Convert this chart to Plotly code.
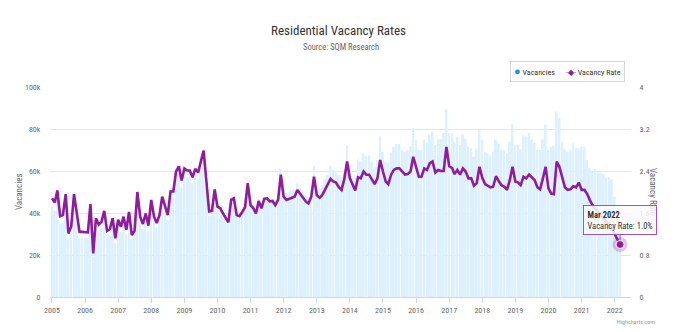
import plotly.graph_objects as go
import pandas as pd

# Monthly vacancy rate (%) Jan 2005 - Mar 2022
RATE = [
    1.88, 1.80, 2.03, 1.54, 1.56, 1.96, 1.21, 1.34, 1.96, 1.59, 1.24, 1.24,  # 2005
    1.23, 1.23, 1.77, 0.83, 1.50, 1.38, 1.43, 1.64, 1.26, 1.29, 1.50, 1.12,  # 2006
    1.47, 1.34, 1.53, 1.28, 1.62, 1.18, 1.26, 2.00, 1.53, 1.39, 1.59, 1.36,  # 2007
    1.85, 1.53, 1.41, 1.56, 1.91, 1.72, 1.56, 2.01, 2.01, 2.39, 2.49, 2.22,  # 2008
    2.45, 2.41, 2.41, 2.28, 2.44, 2.37, 2.58, 2.79, 2.20, 1.63, 1.64, 2.05,  # 2009
    1.72, 1.69, 1.60, 1.51, 1.42, 1.85, 1.88, 1.56, 1.54, 1.62, 1.71, 2.17,  # 2010
    1.75, 1.69, 1.59, 1.83, 1.69, 1.87, 1.88, 1.82, 1.83, 1.75, 1.85, 2.33,  # 2011
    1.91, 1.85, 1.87, 1.88, 1.91, 2.04, 1.96, 1.88, 1.82, 1.78, 1.91, 2.29,  # 2012
    1.94, 1.89, 1.94, 2.04, 2.13, 2.25, 2.20, 2.18, 2.09, 2.04, 2.25, 2.58,  # 2013
    2.26, 2.13, 2.03, 2.28, 2.26, 2.39, 2.33, 2.33, 2.23, 2.15, 2.26, 2.61,  # 2014
    2.39, 2.20, 2.15, 2.33, 2.42, 2.45, 2.45, 2.39, 2.33, 2.34, 2.39, 2.67,  # 2015
    2.48, 2.29, 2.29, 2.45, 2.42, 2.55, 2.58, 2.37, 2.42, 2.40, 2.40, 2.86,  # 2016
    2.49, 2.46, 2.34, 2.42, 2.33, 2.45, 2.39, 2.26, 2.26, 2.12, 2.17, 2.48,  # 2017
    2.27, 2.15, 2.12, 2.09, 2.10, 2.30, 2.21, 2.13, 2.10, 2.04, 2.23, 2.48,  # 2018
    2.20, 2.18, 2.13, 2.29, 2.26, 2.33, 2.28, 2.23, 2.09, 2.05, 2.26, 2.48,  # 2019
    2.07, 1.97, 1.96, 2.58, 2.48, 2.26, 2.09, 2.04, 2.05, 2.11, 2.09, 2.18,  # 2020
    2.04, 2.04, 1.97, 1.85, 1.75, 1.68, 1.62, 1.57, 1.50, 1.44, 1.37, 1.30,  # 2021
    1.20, 1.11, 1.00,                                                        # 2022
]

# Monthly vacancies (thousands)
VAC_K = [
    42.8, 41.0, 46.2, 35.0, 35.5, 44.6, 27.5, 30.5, 44.6, 36.2, 28.2, 28.2,
    28.3, 28.3, 40.7, 19.1, 34.5, 31.7, 32.9, 37.7, 29.0, 29.7, 34.5, 25.8,
    34.2, 31.2, 35.6, 29.8, 37.7, 27.4, 29.3, 46.5, 35.6, 32.3, 37.0, 31.6,
    43.5, 36.0, 33.1, 36.7, 44.9, 40.4, 36.7, 47.2, 47.2, 56.2, 58.5, 52.2,
    58.2, 57.2, 57.2, 54.2, 58.0, 56.3, 61.3, 66.3, 52.3, 38.7, 39.0, 48.7,
    42.1, 41.4, 39.2, 37.0, 34.8, 45.3, 46.1, 38.2, 37.7, 39.7, 41.9, 53.2,
    44.6, 43.1, 40.5, 46.7, 43.1, 47.7, 47.9, 46.4, 46.7, 44.6, 47.2, 61.0,
    51.1, 49.5, 50.0, 50.7, 51.1, 54.1, 52.2, 50.3, 48.7, 47.6, 51.1, 62.5,
    52.9, 51.7, 53.2, 56.2, 58.1, 62.5, 60.5, 60.2, 58.1, 57.0, 60.0, 72.4,
    62.9, 56.6, 56.6, 65.5, 64.4, 68.7, 67.0, 67.5, 64.4, 62.0, 65.3, 76.4,
    69.2, 64.4, 63.9, 68.4, 71.6, 72.8, 72.8, 70.0, 69.2, 70.0, 71.6, 80.6,
    75.0, 70.0, 70.0, 75.0, 73.5, 77.4, 78.7, 72.4, 75.0, 75.2, 78.3, 89.4,
    78.0, 77.6, 74.0, 76.4, 72.4, 77.4, 75.5, 71.6, 70.8, 66.8, 70.8, 79.8,
    74.8, 69.2, 68.4, 67.5, 69.2, 75.0, 73.2, 70.0, 70.0, 68.4, 74.0, 82.2,
    72.4, 72.4, 70.3, 77.1, 76.4, 78.0, 75.0, 73.5, 70.0, 70.0, 75.0, 82.0,
    70.0, 71.6, 72.0, 88.3, 85.4, 74.0, 70.3, 69.2, 70.0, 73.2, 70.8, 70.8,
    71.4, 71.4, 65.3, 61.3, 59.7, 60.8, 59.7, 59.2, 58.6, 56.6, 57.0, 56.0,
    47.8, 38.0, 32.0,
]

START_MONTH = "2005-01-01"
YEARS = list(range(2005, 2023))
LEFT_TICKS = [0, 20000, 40000, 60000, 80000, 100000]
LEFT_TICKTEXT = ["0", "20k", "40k", "60k", "80k", "100k"]
RIGHT_TICKS = [0, 0.8, 1.6, 2.4, 3.2, 4]
RIGHT_TICKTEXT = ["0", "0.8", "1.6", "2.4", "3.2", "4"]
SERIES_NAMES = ["Vacancies", "Vacancy Rate"]

dates = pd.date_range(START_MONTH, periods=len(RATE), freq="MS")
vac = [v * 1000 for v in VAC_K]

PURPLE = "#8e1c9c"
BLUE = "#1f8ef1"
FONT = "Liberation Sans Narrow, Roboto Condensed, Arial Narrow, Open Sans, sans-serif"

fig = go.Figure()
fig.add_trace(go.Bar(x=dates, y=vac, marker=dict(color="#dcf0fd", line=dict(width=0)),
                     showlegend=False, name=SERIES_NAMES[0], yaxis="y"))
fig.add_trace(go.Scatter(x=dates, y=RATE, mode="lines", line=dict(color=PURPLE, width=2.6),
                         showlegend=False, name=SERIES_NAMES[1], yaxis="y2"))
# hover highlight on last point
fig.add_trace(go.Scatter(x=[dates[-1]], y=[RATE[-1]], mode="markers", yaxis="y2", showlegend=False,
                         marker=dict(size=15, color="rgba(142,28,156,0.25)")))
fig.add_trace(go.Scatter(x=[dates[-1]], y=[RATE[-1]], mode="markers", yaxis="y2", showlegend=False,
                         marker=dict(size=8, color=PURPLE, line=dict(color="white", width=1))))

tick_dates = [pd.Timestamp(f"{y}-01-01") for y in YEARS]
fig.update_layout(
    width=677, height=332,
    margin=dict(l=50, r=46, t=87, b=35),
    paper_bgcolor="white", plot_bgcolor="white",
    font=dict(family=FONT, size=8, color="#666666"),
    bargap=0.22,
    showlegend=False,
    title=dict(text="Residential Vacancy Rates", x=0.5, xanchor="center", y=1 - 30 / 332, yanchor="middle",
               font=dict(family=FONT, size=13, color="#333333")),
    xaxis=dict(type="date", range=["2004-12-10", "2022-06-30"], tickvals=tick_dates,
               ticktext=[str(y) for y in YEARS], showgrid=False, showline=True, linecolor="#ccd6eb",
               ticks="outside", ticklen=5, tickcolor="#ccd6eb", tickfont=dict(size=8, color="#666666")),
    yaxis=dict(range=[0, 100000], tickvals=LEFT_TICKS, ticktext=LEFT_TICKTEXT, showgrid=True,
               gridcolor="#e6e6e6", gridwidth=1, zeroline=False, ticks="outside", ticklen=7,
               tickcolor="rgba(0,0,0,0)", tickfont=dict(size=8, color="#666666")),
    yaxis2=dict(range=[0, 4], tickvals=RIGHT_TICKS, ticktext=RIGHT_TICKTEXT, overlaying="y", side="right",
                showgrid=False, zeroline=False, ticks="outside", ticklen=6, tickcolor="rgba(0,0,0,0)",
                tickfont=dict(size=8, color="#666666")),
)

# compact legend box (Highcharts style)
legend_text = (f"<span style='color:{BLUE};font-size:11px'>●</span> {SERIES_NAMES[0]}"
               f"      <span style='color:{PURPLE}'>-◆-</span> {SERIES_NAMES[1]}")
fig.add_annotation(text=legend_text, xref="paper", yref="paper", x=1, xshift=-6, y=(297 - 71) / 210,
                   xanchor="right", yanchor="middle", showarrow=False, bgcolor="white",
                   bordercolor="#d6d6d6", borderwidth=1, borderpad=3,
                   font=dict(family=FONT, size=8, color="#333333"))

last_label = dates[-1].strftime("%b %Y")
fig.add_annotation(text="Source: SQM Research", xref="paper", yref="paper", x=0.5, y=(297 - 47) / 210,
                   xanchor="center", yanchor="middle", showarrow=False,
                   font=dict(family=FONT, size=8.5, color="#666666"))
fig.add_annotation(text="Vacancies", xref="paper", yref="paper", x=0, xshift=-38, y=0.5,
                   textangle=-90, showarrow=False, font=dict(family=FONT, size=9, color="#666666"))
fig.add_annotation(text="Vacancy Rate", xref="paper", yref="paper", x=1, xshift=29, y=0.5,
                   textangle=90, showarrow=False, font=dict(family=FONT, size=9, color="#666666"))
fig.add_annotation(text="Highcharts.com", xref="paper", yref="paper", x=1, xshift=26, y=-0.115,
                   xanchor="right", yanchor="middle", showarrow=False,
                   font=dict(family=FONT, size=6, color="#999999"))
fig.add_annotation(text=f"<b>{last_label}</b><br>Vacancy Rate: {RATE[-1]:.1f}%", x=dates[-1], y=RATE[-1],
                   xref="x", yref="y2", showarrow=True, ax=0, ay=-25, arrowhead=0, arrowwidth=1,
                   arrowcolor="#a553b0", standoff=4, align="left",
                   bgcolor="rgba(250,250,250,0.85)", bordercolor="#a553b0", borderwidth=1, borderpad=3.5,
                   font=dict(family=FONT, size=8.5, color="#333333"))

fig.write_html("out.html")
